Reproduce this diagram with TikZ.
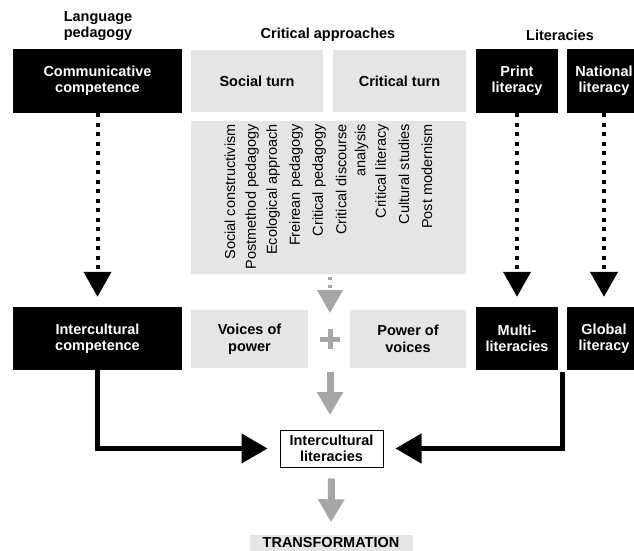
\documentclass[tikz,border=0pt]{standalone}
\usepackage{fontspec}
\setmainfont{Liberation Sans}
\usepackage{tikz}
\usetikzlibrary{arrows.meta,calc}
\definecolor{panelgrey}{RGB}{229,229,229}
\definecolor{arrowgrey}{RGB}{166,166,166}
\tikzset{
  boxtext/.style = {align=center, inner sep=0pt, text centered,
    font=\fontsize{14.5}{16.5}\selectfont\bfseries},
  blackbox/.style = {boxtext, fill=black, text=white, minimum height=64pt},% literacies + competences
  greybox/.style = {boxtext, fill=panelgrey, text=black, minimum height=60pt},% critical approaches
  heading/.style = {boxtext, text=black},
  listitem/.style = {align=right, inner sep=0pt, rotate=90, anchor=east,
    font=\fontsize{14.5}{19}\selectfont},
  dotarrow/.style = {line width=4pt, dash pattern=on 4pt off 5.5pt,
    -{Triangle[length=25pt,width=27pt]}},
  blackarrow/.style = {line width=4.5pt, -{Triangle[length=26pt,width=29pt]}},
  greyarrow/.style = {arrowgrey, line width=7pt, -{Triangle[length=23pt,width=25pt]}},
}

\begin{document}
\begin{tikzpicture}[x=1pt,y=-1pt]
\useasboundingbox (0,0) rectangle (634,551);

% column headings
\node [heading] (hped) at (98,26) {Language\\pedagogy};
\node [heading] (hcrit) at (328,35) {Critical approaches};
\node [heading] (hlit) at (560,35) {Literacies};

% top row
\node [blackbox, minimum width=169pt] (comm) at (97.5,81) {Communicative\\competence};
\node [greybox, minimum width=132pt, minimum height=62pt] (social) at (257,81) {Social turn};
\node [greybox, minimum width=133pt, minimum height=62pt] (critical) at (399.5,81) {Critical turn};
\node [blackbox, minimum width=82pt] (print) at (517,81) {Print\\literacy};
\node [blackbox, minimum width=74pt] (national) at (604,81) {National\\literacy};

% list of approaches
\node [fill=panelgrey, inner sep=0pt, minimum width=275pt, minimum height=153pt] (panel) at (328.5,197.5) {};
\node [listitem] (item1) at (230,124) {Social constructivism};
\node [listitem] (item2) at (252,124) {Postmethod pedagogy};
\node [listitem] (item3) at (273,124) {Ecological approach};
\node [listitem] (item4) at (296,124) {Freirean pedagogy};
\node [listitem] (item5) at (319,124) {Critical pedagogy};
\node [listitem] (item6) at (352,124) {Critical discourse\\analysis};
\node [listitem] (item7) at (382,124) {Critical literacy};
\node [listitem] (item8) at (404,124) {Cultural studies};
\node [listitem] (item9) at (427,124) {Post modernism};

% second row
\node [blackbox, minimum width=169pt, minimum height=63pt] (intercomp) at (97.5,338.5) {Intercultural\\competence};
\node [greybox, minimum width=117pt, minimum height=58pt] (voices) at (249.5,339) {Voices of\\power};
\node [greybox, minimum width=116pt, minimum height=58pt] (power) at (408,339) {Power of\\voices};
\node [blackbox, minimum width=82pt, minimum height=63pt] (multi) at (517,338.5) {Multi-\\literacies};
\node [blackbox, minimum width=74pt, minimum height=63pt] (global) at (604,338.5) {Global\\literacy};

% result
\node [boxtext, draw=black, line width=1pt, fill=white, minimum width=103pt, minimum height=37pt] (interlit) at (331.5,448.5) {Intercultural\\literacies};
\node [boxtext, fill=panelgrey, minimum width=163pt, minimum height=17pt] (transf) at (331,543) {TRANSFORMATION};

% dotted arrows down the outer columns
\draw [dotarrow] (comm.south) -- ([yshift=10pt]intercomp.north);
\draw [dotarrow] (print.south) -- ([yshift=10pt]multi.north);
\draw [dotarrow] (national.south) -- ([yshift=10pt]global.north);

% grey arrows and plus in the middle
\coordinate (panelfoot) at (330,277);
\coordinate (plusin) at (330,313);
\coordinate (plus) at (330,339);
\coordinate (plusout) at (330,372);
\coordinate (litin) at (330,415);
\draw [greyarrow, line width=4pt, dash pattern=on 3pt off 5pt] (panelfoot) -- (plusin);
\draw [arrowgrey, line width=5pt] ($(plus)+(-10,0)$) -- ($(plus)+(10,0)$)
  ($(plus)+(0,-10)$) -- ($(plus)+(0,10)$);
\draw [greyarrow] (plusout) -- (litin);
\draw [greyarrow] ([yshift=-11pt]interlit.south) -- ([yshift=12pt]transf.north);

% black connectors into intercultural literacies
\coordinate (litjoin) at ($(multi.south east)!0.5!(global.south west)+(0,2)$);
\draw [blackarrow] (intercomp.south) |- ([xshift=-12pt]interlit.west);
\draw [blackarrow] (litjoin) |- ([xshift=12pt]interlit.east);
\end{tikzpicture}
\end{document}
